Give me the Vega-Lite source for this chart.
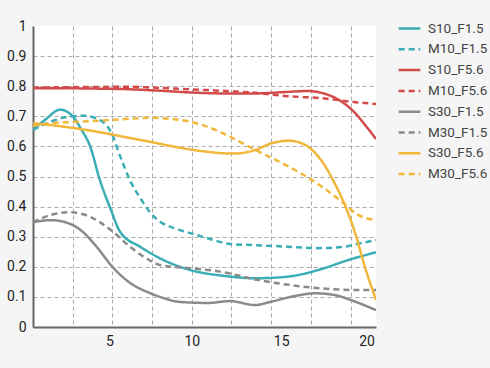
{
  "$schema": "https://vega.github.io/schema/vega-lite/v6.json",
  "autosize": {"type": "none"},
  "width": 343,
  "height": 301,
  "padding": {"left": 33, "top": 26, "right": 114, "bottom": 41},
  "background": "#f5f5f5",
  "config": {
    "view": {"fill": "white", "stroke": null},
    "font": "Roboto"
  },
  "data": {"values": [
    {"s":"S10_F1.5","x":0,"y":0.655},{"s":"S10_F1.5","x":0.8,"y":0.69},{"s":"S10_F1.5","x":1.7,"y":0.722},{"s":"S10_F1.5","x":2.5,"y":0.7},{"s":"S10_F1.5","x":3.0,"y":0.66},{"s":"S10_F1.5","x":3.6,"y":0.6},{"s":"S10_F1.5","x":4.2,"y":0.49},{"s":"S10_F1.5","x":4.9,"y":0.39},{"s":"S10_F1.5","x":5.5,"y":0.315},{"s":"S10_F1.5","x":6.8,"y":0.265},{"s":"S10_F1.5","x":8.0,"y":0.228},{"s":"S10_F1.5","x":9.0,"y":0.205},{"s":"S10_F1.5","x":10,"y":0.188},{"s":"S10_F1.5","x":12,"y":0.17},{"s":"S10_F1.5","x":14,"y":0.162},{"s":"S10_F1.5","x":16,"y":0.167},{"s":"S10_F1.5","x":18,"y":0.19},{"s":"S10_F1.5","x":20,"y":0.225},{"s":"S10_F1.5","x":21.6,"y":0.248},
    {"s":"M10_F1.5","x":0,"y":0.655},{"s":"M10_F1.5","x":1.1,"y":0.682},{"s":"M10_F1.5","x":2.3,"y":0.699},{"s":"M10_F1.5","x":3.2,"y":0.702},{"s":"M10_F1.5","x":4.0,"y":0.693},{"s":"M10_F1.5","x":4.9,"y":0.649},{"s":"M10_F1.5","x":5.5,"y":0.566},{"s":"M10_F1.5","x":6.1,"y":0.488},{"s":"M10_F1.5","x":6.8,"y":0.425},{"s":"M10_F1.5","x":7.4,"y":0.379},{"s":"M10_F1.5","x":8.0,"y":0.35},{"s":"M10_F1.5","x":8.9,"y":0.328},{"s":"M10_F1.5","x":9.9,"y":0.312},{"s":"M10_F1.5","x":11,"y":0.295},{"s":"M10_F1.5","x":12.4,"y":0.276},{"s":"M10_F1.5","x":14,"y":0.272},{"s":"M10_F1.5","x":16,"y":0.267},{"s":"M10_F1.5","x":17.8,"y":0.262},{"s":"M10_F1.5","x":19.5,"y":0.266},{"s":"M10_F1.5","x":20.7,"y":0.279},{"s":"M10_F1.5","x":21.6,"y":0.289},
    {"s":"S10_F5.6","x":0,"y":0.793},{"s":"S10_F5.6","x":2,"y":0.793},{"s":"S10_F5.6","x":4,"y":0.792},{"s":"S10_F5.6","x":6,"y":0.79},{"s":"S10_F5.6","x":8,"y":0.785},{"s":"S10_F5.6","x":10,"y":0.779},{"s":"S10_F5.6","x":12,"y":0.776},{"s":"S10_F5.6","x":14,"y":0.776},{"s":"S10_F5.6","x":16,"y":0.781},{"s":"S10_F5.6","x":17.3,"y":0.784},{"s":"S10_F5.6","x":18.3,"y":0.776},{"s":"S10_F5.6","x":19.4,"y":0.75},{"s":"S10_F5.6","x":20.3,"y":0.71},{"s":"S10_F5.6","x":20.9,"y":0.672},{"s":"S10_F5.6","x":21.6,"y":0.625},
    {"s":"M10_F5.6","x":0,"y":0.795},{"s":"M10_F5.6","x":3,"y":0.797},{"s":"M10_F5.6","x":6,"y":0.798},{"s":"M10_F5.6","x":8.5,"y":0.793},{"s":"M10_F5.6","x":11,"y":0.787},{"s":"M10_F5.6","x":14,"y":0.778},{"s":"M10_F5.6","x":16,"y":0.767},{"s":"M10_F5.6","x":18.2,"y":0.76},{"s":"M10_F5.6","x":20.3,"y":0.747},{"s":"M10_F5.6","x":21.6,"y":0.741},
    {"s":"S30_F1.5","x":0,"y":0.348},{"s":"S30_F1.5","x":1.1,"y":0.355},{"s":"S30_F1.5","x":1.9,"y":0.35},{"s":"S30_F1.5","x":3,"y":0.322},{"s":"S30_F1.5","x":4,"y":0.267},{"s":"S30_F1.5","x":5,"y":0.2},{"s":"S30_F1.5","x":6.1,"y":0.147},{"s":"S30_F1.5","x":7.4,"y":0.112},{"s":"S30_F1.5","x":8,"y":0.1},{"s":"S30_F1.5","x":9.3,"y":0.083},{"s":"S30_F1.5","x":11,"y":0.08},{"s":"S30_F1.5","x":12.4,"y":0.086},{"s":"S30_F1.5","x":14,"y":0.073},{"s":"S30_F1.5","x":15,"y":0.084},{"s":"S30_F1.5","x":16.5,"y":0.103},{"s":"S30_F1.5","x":17.8,"y":0.112},{"s":"S30_F1.5","x":19,"y":0.106},{"s":"S30_F1.5","x":20.3,"y":0.084},{"s":"S30_F1.5","x":21.6,"y":0.056},
    {"s":"M30_F1.5","x":0,"y":0.348},{"s":"M30_F1.5","x":1.1,"y":0.372},{"s":"M30_F1.5","x":2.3,"y":0.381},{"s":"M30_F1.5","x":3.6,"y":0.366},{"s":"M30_F1.5","x":4.9,"y":0.322},{"s":"M30_F1.5","x":6.1,"y":0.267},{"s":"M30_F1.5","x":7.4,"y":0.22},{"s":"M30_F1.5","x":8,"y":0.206},{"s":"M30_F1.5","x":9.9,"y":0.195},{"s":"M30_F1.5","x":11.8,"y":0.184},{"s":"M30_F1.5","x":14,"y":0.158},{"s":"M30_F1.5","x":16.1,"y":0.14},{"s":"M30_F1.5","x":18.2,"y":0.128},{"s":"M30_F1.5","x":20.3,"y":0.123},{"s":"M30_F1.5","x":21.6,"y":0.123},
    {"s":"S30_F5.6","x":0,"y":0.677},{"s":"S30_F5.6","x":2,"y":0.665},{"s":"S30_F5.6","x":4,"y":0.649},{"s":"S30_F5.6","x":6.1,"y":0.628},{"s":"S30_F5.6","x":7.4,"y":0.615},{"s":"S30_F5.6","x":8.9,"y":0.599},{"s":"S30_F5.6","x":11,"y":0.582},{"s":"S30_F5.6","x":12.6,"y":0.576},{"s":"S30_F5.6","x":14,"y":0.588},{"s":"S30_F5.6","x":15,"y":0.61},{"s":"S30_F5.6","x":16.1,"y":0.619},{"s":"S30_F5.6","x":17.1,"y":0.606},{"s":"S30_F5.6","x":18.2,"y":0.55},{"s":"S30_F5.6","x":19,"y":0.477},{"s":"S30_F5.6","x":19.6,"y":0.41},{"s":"S30_F5.6","x":20.3,"y":0.31},{"s":"S30_F5.6","x":20.9,"y":0.2},{"s":"S30_F5.6","x":21.6,"y":0.09},
    {"s":"M30_F5.6","x":0,"y":0.668},{"s":"M30_F5.6","x":1.1,"y":0.677},{"s":"M30_F5.6","x":3,"y":0.682},{"s":"M30_F5.6","x":5,"y":0.688},{"s":"M30_F5.6","x":7.4,"y":0.695},{"s":"M30_F5.6","x":8.9,"y":0.69},{"s":"M30_F5.6","x":9.9,"y":0.682},{"s":"M30_F5.6","x":11,"y":0.665},{"s":"M30_F5.6","x":12.6,"y":0.627},{"s":"M30_F5.6","x":14,"y":0.588},{"s":"M30_F5.6","x":16.1,"y":0.533},{"s":"M30_F5.6","x":18.2,"y":0.466},{"s":"M30_F5.6","x":19.7,"y":0.405},{"s":"M30_F5.6","x":20.3,"y":0.378},{"s":"M30_F5.6","x":21.6,"y":0.355}
  ]},
  "mark": {"type": "line", "interpolate": "monotone", "strokeWidth": 2.5, "clip": true},
  "encoding": {
    "x": {
      "field": "x", "type": "quantitative",
      "scale": {"domain": [0, 21.6], "nice": false},
      "axis": {
        "title": null,
        "values": [2.5, 5, 7.5, 10, 12.5, 15, 17.5, 20],
        "labelExpr": "datum.value % 5 == 0 ? format(datum.value, 'd') : ''",
        "labelOffset": {"expr": "datum.value == 5 ? -3 : datum.value == 15 ? 10 : datum.value == 20 ? 16 : 0"},
        "ticks": false,
        "labelPadding": 7,
        "labelFontSize": 14,
        "labelColor": "#222",
        "labelFont": "Roboto",
        "grid": true,
        "gridDash": [4, 3],
        "gridColor": "#aaaaaa",
        "gridWidth": 1,
        "domainColor": "#666666",
        "domainWidth": 2
      }
    },
    "y": {
      "field": "y", "type": "quantitative",
      "scale": {"domain": [0, 1], "nice": false},
      "axis": {
        "title": null,
        "values": [0, 0.1, 0.2, 0.3, 0.4, 0.5, 0.6, 0.7, 0.8, 0.9, 1],
        "format": "~g",
        "ticks": false,
        "labelPadding": 7,
        "labelFontSize": 14,
        "labelColor": "#222",
        "labelFont": "Roboto",
        "grid": true,
        "gridDash": [4, 3],
        "gridColor": "#aaaaaa",
        "gridWidth": 1,
        "gridOpacity": {"condition": {"test": "datum.value >= 0.99 || datum.value <= 0.01", "value": 0}, "value": 1},
        "domainColor": "#666666",
        "domainWidth": 2
      }
    },
    "color": {
      "field": "s", "type": "nominal", "title": null,
      "scale": {
        "domain": ["S10_F1.5","M10_F1.5","S10_F5.6","M10_F5.6","S30_F1.5","M30_F1.5","S30_F5.6","M30_F5.6"],
        "range": ["#3aaeb5","#3aaeb5","#d24a4a","#d24a4a","#8a8a8a","#8a8a8a","#f1b73a","#f1b73a"]
      },
      "legend": {
        "orient": "none",
        "legendX": 364,
        "legendY": -10,
        "padding": 0,
        "symbolType": "stroke",
        "symbolStrokeWidth": 2.5,
        "symbolSize": 470,
        "rowPadding": 1.8,
        "labelOffset": 6,
        "labelFontSize": 13.5,
        "labelColor": "#444",
        "labelFont": "Roboto",
        "labelLimit": 200
      }
    },
    "strokeDash": {
      "field": "s", "type": "nominal", "title": null,
      "scale": {
        "domain": ["S10_F1.5","M10_F1.5","S10_F5.6","M10_F5.6","S30_F1.5","M30_F1.5","S30_F5.6","M30_F5.6"],
        "range": [[1,0],[6,4],[1,0],[6,4],[1,0],[6,4],[1,0],[6,4]]
      }
    }
  }
}
